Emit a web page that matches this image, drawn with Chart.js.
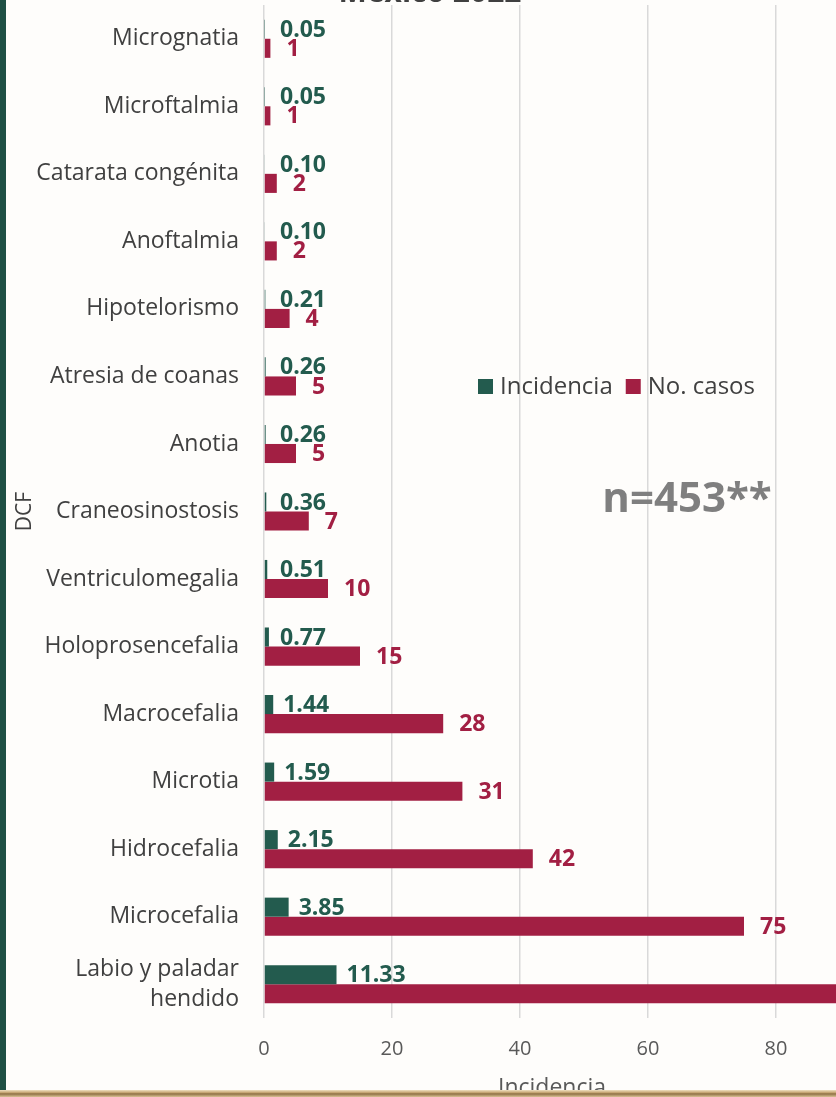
<!DOCTYPE html>
<html>
<head>
<meta charset="utf-8">
<script src="https://cdn.jsdelivr.net/npm/chart.js@4/dist/chart.umd.min.js"></script>
<style>
  html, body { margin: 0; padding: 0; width: 836px; height: 1097px; overflow: hidden; background: #fefdfb; }
  #wrap { position: absolute; left: 0; top: 0; width: 848px; height: 1097px; }
  #title { position: absolute; left: 230px; width: 400px; top: -30px; text-align: center;
           font: bold 30px "Open Sans", sans-serif; color: #404040; }
  #stripe { position: absolute; left: 0; top: 0; width: 6px; height: 1097px; background: #1f5044; }
  #goldline { position: absolute; left: 0; top: 1090px; width: 836px; height: 7px;
              background: linear-gradient(#efe0c0, #c9a977 35%, #8f7144 55%, #d9c194); }
</style>
</head>
<body>
<div id="wrap"><canvas id="chart" width="848" height="1097"></canvas></div>
<div id="title">México 2022</div>
<div id="stripe"></div>
<div id="goldline"></div>
<script>
document.addEventListener("DOMContentLoaded", function() {
  // datos de la gráfica
  const categories = ['Micrognatia', 'Microftalmia', 'Catarata congénita', 'Anoftalmia', 'Hipotelorismo',
    'Atresia de coanas', 'Anotia', 'Craneosinostosis', 'Ventriculomegalia', 'Holoprosencefalia',
    'Macrocefalia', 'Microtia', 'Hidrocefalia', 'Microcefalia', ['Labio y paladar', 'hendido']];
  const incidencia = [0.05, 0.05, 0.10, 0.10, 0.21, 0.26, 0.26, 0.36, 0.51, 0.77, 1.44, 1.59, 2.15, 3.85, 11.33];
  const casos = [1, 1, 2, 2, 4, 5, 5, 7, 10, 15, 28, 31, 42, 75, 221];
  const seriesNames = ['Incidencia', 'No. casos'];
  const xMin = 0, xMax = 90, xStep = 20;

  const green = '#235B4E';
  const guinda = '#A21F43';
  const FONT = '"Open Sans", sans-serif';

  // etiquetas de valor al final de cada barra
  const valueLabels = {
    id: 'valueLabels',
    afterDatasetsDraw(chart) {
      const ctx = chart.ctx;
      const zeroX = chart.scales.x.getPixelForValue(0);
      ctx.save();
      ctx.font = 'bold 23px ' + FONT;
      ctx.textBaseline = 'middle';
      ctx.textAlign = 'left';
      chart.data.datasets.forEach((ds, i) => {
        chart.getDatasetMeta(i).data.forEach((bar, j) => {
          const v = ds.data[j];
          let x, text;
          if (i === 0) {
            x = Math.max(zeroX + 16, bar.x + 10);
            text = v.toFixed(2);
          } else {
            x = bar.x + 16;
            text = String(v);
          }
          if (x > chart.chartArea.right) return;
          ctx.fillStyle = ds.backgroundColor;
          ctx.fillText(text, x, bar.y + 1);
        });
      });
      ctx.restore();
    }
  };

  // leyenda y texto n=453 dentro del área
  const overlay = {
    id: 'overlay',
    afterDraw(chart) {
      const ctx = chart.ctx;
      ctx.save();
      ctx.font = '24px ' + FONT;
      ctx.textBaseline = 'middle';
      let x = 478;
      const y = 387;
      chart.data.datasets.forEach(ds => {
        ctx.fillStyle = ds.backgroundColor;
        ctx.fillRect(x, y - 8, 15, 15);
        ctx.fillStyle = '#404040';
        ctx.fillText(ds.label, x + 22, y);
        x += 22 + ctx.measureText(ds.label).width + 13;
      });
      ctx.font = 'bold 42px ' + FONT;
      ctx.fillStyle = '#7f7f7f';
      ctx.textAlign = 'center';
      ctx.fillText('n=453**', 687, 500);
      ctx.restore();
    }
  };

  const ctx = document.getElementById('chart').getContext('2d');
  new Chart(ctx, {
    type: 'bar',
    data: {
      labels: categories,
      datasets: [
        { label: seriesNames[0], data: incidencia, backgroundColor: green },
        { label: seriesNames[1], data: casos, backgroundColor: guinda }
      ]
    },
    options: {
      indexAxis: 'y',
      responsive: false,
      animation: false,
      categoryPercentage: 0.565,
      barPercentage: 1.0,
      layout: { padding: { top: 5, left: 0, right: 8, bottom: 0 } },
      plugins: {
        legend: { display: false },
        tooltip: { enabled: false }
      },
      scales: {
        x: {
          min: xMin,
          max: xMax,
          ticks: { stepSize: xStep, includeBounds: false, padding: 19, color: '#595959', font: { family: FONT, size: 20 } },
          grid: { color: '#d9d9d9', lineWidth: 1.5, drawTicks: false },
          border: { display: false },
          title: { display: true, text: 'Incidencia', color: '#595959', font: { family: FONT, size: 23 }, padding: { top: 0, bottom: -5 } },
          afterFit(scale) { scale.height = 79; scale.paddingLeft = 0; scale.paddingRight = 0; }
        },
        y: {
          ticks: { padding: 25, color: '#404040', font: { family: FONT, size: 23, lineHeight: 1.3 } },
          grid: { display: false, drawTicks: false },
          border: { display: false },
          title: { display: true, text: 'DCF', color: '#404040', font: { family: FONT, size: 21 }, padding: { top: 12, bottom: 0 } },
          afterFit(scale) { scale.width = 264; scale.paddingTop = 0; scale.paddingBottom = 0; }
        }
      }
    },
    plugins: [valueLabels, overlay]
  });
});
</script>
</body>
</html>
